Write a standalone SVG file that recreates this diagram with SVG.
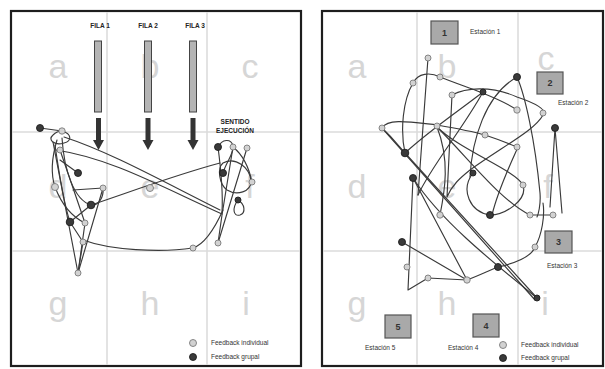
<svg xmlns="http://www.w3.org/2000/svg" width="605" height="369" viewBox="0 0 605 369">
  <style>
    .frame { fill: #ffffff; stroke: #1e1e1e; stroke-width: 2.2; }
    .grid { stroke: #dcdcdc; stroke-width: 1.6; fill: none; }
    .zone { font-family: "Liberation Sans", Arial, sans-serif; font-size: 34px; fill: #d6d6d6; text-anchor: middle; }
    .trail { fill: none; stroke: #3a3a3a; stroke-width: 1.15; stroke-linecap: round; stroke-linejoin: round; }
    .ni { fill: #d2d2d2; stroke: #7a7a7a; stroke-width: 0.9; }
    .ng { fill: #3a3a3a; stroke: #1e1e1e; stroke-width: 0.9; }
    .lbl { font-family: "Liberation Sans", Arial, sans-serif; font-size: 6.5px; fill: #333; }
    .head { font-family: "Liberation Sans", Arial, sans-serif; font-size: 6.5px; font-weight: bold; fill: #222; text-anchor: middle; }
    .bar { fill: #b4b4b4; stroke: #444; stroke-width: 1; }
    .stn { fill: #a9a9a9; stroke: #555; stroke-width: 1.2; }
    .stn-n { font-family: "Liberation Sans", Arial, sans-serif; font-size: 9px; font-weight: bold; fill: #333; text-anchor: middle; }
    .arrow { fill: #333; }
  </style>

  <!-- Left field: rows of players -->
  <g id="field-left">
    <rect class="frame" x="11" y="11" width="290" height="355"/>
    <path class="grid" d="M107,12 V365 M207,12 V365 M12,132 H300 M12,251 H300"/>
    <text class="zone" x="58" y="78">a</text>
    <text class="zone" x="150" y="78">b</text>
    <text class="zone" x="250" y="78">c</text>
    <text class="zone" x="58" y="198">d</text>
    <text class="zone" x="150" y="198">e</text>
    <text class="zone" x="250" y="198">f</text>
    <text class="zone" x="58" y="315">g</text>
    <text class="zone" x="150" y="315">h</text>
    <text class="zone" x="246" y="315">i</text>
  </g>

  <g id="fila-1">
    <text class="head" x="100" y="28">FILA 1</text>
    <rect class="bar" x="94.5" y="41" width="7" height="71"/>
    <path class="arrow" d="M96,118 H101 V140 H104 L98.5,150 L93,140 H96 Z"/>
  </g>
  <g id="fila-2">
    <text class="head" x="148" y="28">FILA 2</text>
    <rect class="bar" x="144.5" y="41" width="7" height="71"/>
    <path class="arrow" d="M145.5,118 H150.5 V140 H153.5 L148,150 L142.5,140 H145.5 Z"/>
  </g>
  <g id="fila-3">
    <text class="head" x="195" y="28">FILA 3</text>
    <rect class="bar" x="189.5" y="41" width="7" height="71"/>
    <path class="arrow" d="M190.5,118 H195.5 V140 H198.5 L193,150 L187.5,140 H190.5 Z"/>
  </g>
  <g id="sentido">
    <text class="head" x="235" y="124">SENTIDO</text>
    <text class="head" x="235" y="133">EJECUCIÓN</text>
  </g>

  <g id="connectors-left">
    <path class="trail" d="M40,128 L62,131"/>
    <path class="trail" d="M62,131 C72,134 72,141 64,143 C55,146 47,140 53,135 C57,131 62,131 62,131"/>
    <path class="trail" d="M64,137 C110,152 160,180 220,210"/>
    <path class="trail" d="M56,150 C110,158 160,186 222,214"/>
    <path class="trail" d="M91,205 C130,192 175,175 220,163"/>
    <path class="trail" d="M83,240 C110,250 160,253 193,248 C205,244 214,230 223,210"/>
    <path class="trail" d="M53,142 L78,273 L103,188 L73,190"/>
    <path class="trail" d="M60,150 L85,223 L78,273"/>
    <path class="trail" d="M55,145 C60,180 66,210 70,222 L91,205"/>
    <path class="trail" d="M60,160 L78,173"/>
    <path class="trail" d="M70,222 L83,242 L78,273"/>
    <path class="trail" d="M57,140 C51,160 51,175 55,187 C60,200 68,215 85,223"/>
    <path class="trail" d="M62,138 C64,170 74,200 91,205 C98,206 104,198 103,188"/>
    <path class="trail" d="M218,147 C221,170 223,195 222,212"/>
    <path class="trail" d="M218,147 C222,139 231,138 233,146 C234,154 226,162 223,173"/>
    <path class="trail" d="M247,148 L218,243"/>
    <path class="trail" d="M233,147 L222,215 L218,243"/>
    <path class="trail" d="M223,163 C236,156 250,168 251,181 C251,192 237,196 227,190 C219,184 217,168 223,163"/>
    <path class="trail" d="M238,200 C245,204 246,213 240,215 C233,217 232,208 238,200"/>
    <path class="trail" d="M233,147 C243,155 249,168 252,182"/>
  </g>

  <g id="nodes-left">
    <circle class="ng" cx="40" cy="128" r="3.5"/>
    <circle class="ni" cx="62" cy="131" r="3.2"/>
    <circle class="ni" cx="60" cy="150" r="3"/>
    <circle class="ng" cx="78" cy="173" r="3.5"/>
    <circle class="ni" cx="55" cy="187" r="3.5"/>
    <circle class="ni" cx="103" cy="188" r="3"/>
    <circle class="ng" cx="91" cy="205" r="3.8"/>
    <circle class="ng" cx="70" cy="222" r="3.8"/>
    <circle class="ni" cx="85" cy="223" r="3"/>
    <circle class="ni" cx="83" cy="242" r="3"/>
    <circle class="ni" cx="78" cy="273" r="3"/>
    <circle class="ni" cx="150" cy="188" r="3.5"/>
    <circle class="ni" cx="193" cy="248" r="3"/>
    <circle class="ng" cx="218" cy="147" r="3.5"/>
    <circle class="ni" cx="233" cy="147" r="3"/>
    <circle class="ni" cx="247" cy="148" r="3"/>
    <circle class="ng" cx="223" cy="173" r="3.5"/>
    <circle class="ni" cx="252" cy="182" r="3"/>
    <circle class="ng" cx="238" cy="200" r="3"/>
    <circle class="ni" cx="218" cy="243" r="3"/>
  </g>

  <g id="legend-left">
    <circle class="ni" cx="193" cy="343" r="3.5"/>
    <circle class="ng" cx="193" cy="357" r="3.5"/>
    <text class="lbl" x="211" y="345">Feedback individual</text>
    <text class="lbl" x="211" y="359">Feedback grupal</text>
  </g>

  <!-- Right field: stations -->
  <g id="field-right">
    <rect class="frame" x="322" y="11" width="281" height="355"/>
    <path class="grid" d="M417,12 V365 M518,12 V365 M323,132 H602 M323,251 H602"/>
    <text class="zone" x="357" y="78">a</text>
    <text class="zone" x="447" y="78">b</text>
    <text class="zone" x="546" y="70">c</text>
    <text class="zone" x="357" y="198">d</text>
    <text class="zone" x="447" y="198">e</text>
    <text class="zone" x="548" y="198">f</text>
    <text class="zone" x="357" y="315">g</text>
    <text class="zone" x="447" y="315">h</text>
    <text class="zone" x="545" y="315">i</text>
  </g>

  <g id="connectors-right">
    <path class="trail" d="M428,58 L418,195"/>
    <path class="trail" d="M405,153 C400,130 403,100 413,83 C418,73 430,72 440,77 C455,83 470,88 480,92 C495,98 510,105 517,110"/>
    <path class="trail" d="M382,128 C388,118 410,122 437,125 C460,129 478,133 485,135 C500,140 510,144 517,147"/>
    <path class="trail" d="M452,95 C465,88 490,85 517,97 C535,103 548,110 543,115 C535,130 505,145 470,170 C460,178 452,185 447,197 L452,95"/>
    <path class="trail" d="M470,177 C472,140 485,95 517,77 C525,95 535,140 540,193 C541,205 538,215 537,217"/>
    <path class="trail" d="M550,207 L555,128 L562,213"/>
    <path class="trail" d="M405,153 L537,298"/>
    <path class="trail" d="M382,128 L535,300"/>
    <path class="trail" d="M413,178 L408,290 L428,278 L467,280 C480,275 490,270 498,267 C520,262 532,255 535,247 C542,235 545,215 543,203"/>
    <path class="trail" d="M413,178 L467,280"/>
    <path class="trail" d="M413,178 C440,220 490,260 537,298"/>
    <path class="trail" d="M402,242 L467,280"/>
    <path class="trail" d="M437,127 C460,150 515,170 523,185 C528,200 505,215 490,215 C470,212 460,190 473,173"/>
    <path class="trail" d="M437,127 C470,160 500,200 530,215 L553,215"/>
    <path class="trail" d="M440,215 C445,190 450,160 437,127"/>
    <path class="trail" d="M405,153 C430,130 460,110 483,92"/>
    <path class="trail" d="M418,195 C432,165 462,130 483,92"/>
    <path class="trail" d="M518,147 C510,165 498,190 492,215"/>
    <path class="trail" d="M382,128 C395,140 400,148 405,153"/>
  </g>

  <g id="nodes-right">
    <circle class="ni" cx="428" cy="58" r="3"/>
    <circle class="ni" cx="413" cy="83" r="3"/>
    <circle class="ni" cx="440" cy="77" r="3"/>
    <circle class="ni" cx="452" cy="95" r="3"/>
    <circle class="ng" cx="483" cy="92" r="3"/>
    <circle class="ng" cx="517" cy="77" r="3.5"/>
    <circle class="ni" cx="517" cy="110" r="3.2"/>
    <circle class="ni" cx="543" cy="113" r="3"/>
    <circle class="ng" cx="555" cy="128" r="3.5"/>
    <circle class="ni" cx="382" cy="128" r="3"/>
    <circle class="ni" cx="437" cy="126" r="3"/>
    <circle class="ni" cx="485" cy="135" r="3"/>
    <circle class="ni" cx="517" cy="147" r="3"/>
    <circle class="ng" cx="405" cy="153" r="3.8"/>
    <circle class="ng" cx="413" cy="178" r="3.5"/>
    <circle class="ng" cx="473" cy="173" r="3"/>
    <circle class="ni" cx="523" cy="185" r="3"/>
    <circle class="ni" cx="440" cy="215" r="3.2"/>
    <circle class="ng" cx="490" cy="215" r="3.5"/>
    <circle class="ni" cx="530" cy="215" r="3"/>
    <circle class="ni" cx="553" cy="215" r="3"/>
    <circle class="ng" cx="402" cy="242" r="3.5"/>
    <circle class="ni" cx="535" cy="247" r="3"/>
    <circle class="ni" cx="407" cy="267" r="3"/>
    <circle class="ng" cx="498" cy="267" r="3.5"/>
    <circle class="ni" cx="428" cy="278" r="3"/>
    <circle class="ni" cx="467" cy="280" r="3.2"/>
    <circle class="ng" cx="537" cy="298" r="3"/>
  </g>

  <g id="station-1">
    <rect class="stn" x="431" y="21" width="27" height="23"/>
    <text class="stn-n" x="444.5" y="35.5">1</text>
    <text class="lbl" x="470" y="34">Estación 1</text>
  </g>
  <g id="station-2">
    <rect class="stn" x="537" y="72" width="26" height="22"/>
    <text class="stn-n" x="550" y="86">2</text>
    <text class="lbl" x="558" y="105">Estación 2</text>
  </g>
  <g id="station-3">
    <rect class="stn" x="545" y="231" width="27" height="22"/>
    <text class="stn-n" x="558.5" y="245">3</text>
    <text class="lbl" x="547" y="268">Estación 3</text>
  </g>
  <g id="station-4">
    <rect class="stn" x="473" y="314" width="26" height="23"/>
    <text class="stn-n" x="486" y="328.5">4</text>
    <text class="lbl" x="448" y="350">Estación 4</text>
  </g>
  <g id="station-5">
    <rect class="stn" x="385" y="315" width="26" height="23"/>
    <text class="stn-n" x="398" y="329.5">5</text>
    <text class="lbl" x="365" y="350">Estación 5</text>
  </g>

  <g id="legend-right">
    <circle class="ni" cx="503" cy="345" r="3.5"/>
    <circle class="ng" cx="503" cy="358" r="3.5"/>
    <text class="lbl" x="521" y="347">Feedback individual</text>
    <text class="lbl" x="521" y="360">Feedback grupal</text>
  </g>
</svg>
